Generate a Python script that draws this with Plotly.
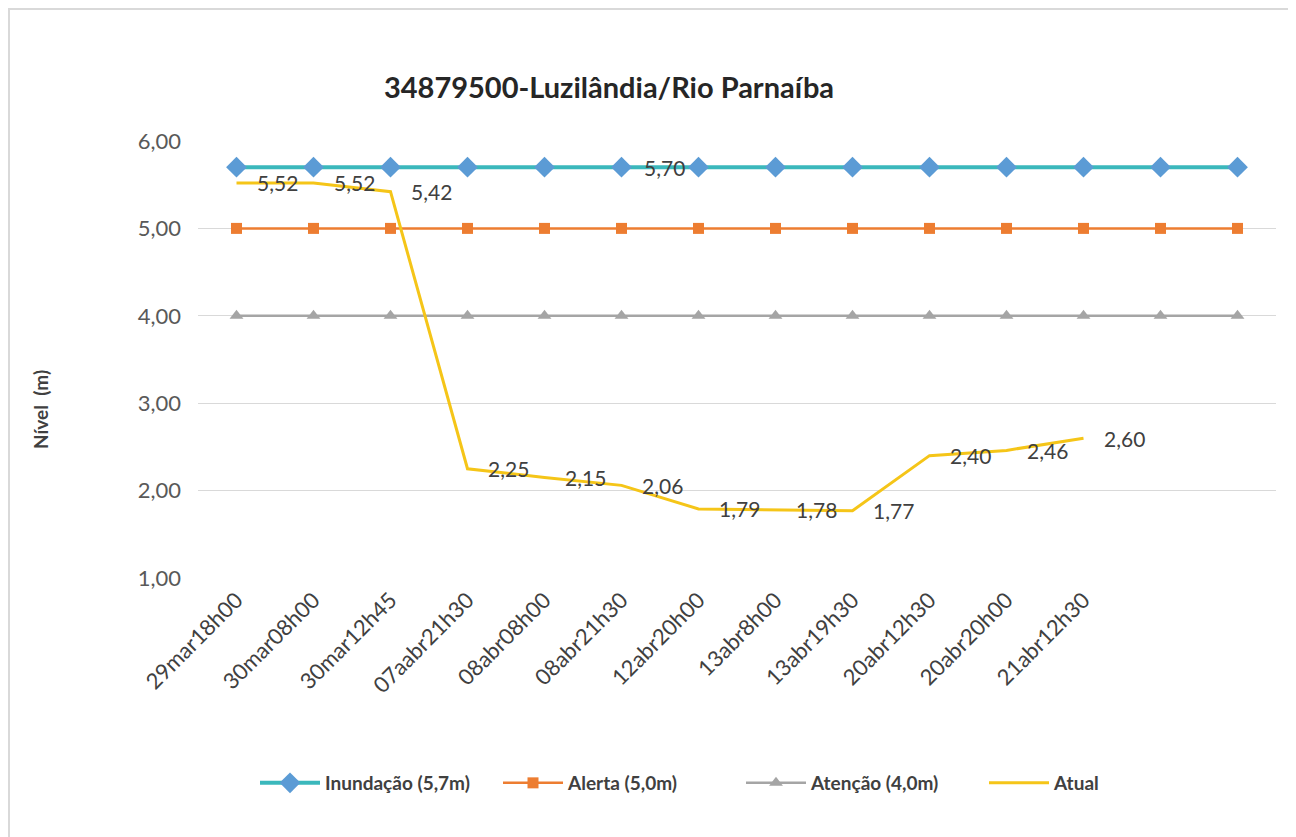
import plotly.graph_objects as go

# ---------------- data ----------------
categories = ["29mar18h00", "30mar08h00", "30mar12h45", "07aabr21h30", "08abr08h00",
              "08abr21h30", "12abr20h00", "13abr8h00", "13abr19h30", "20abr12h30",
              "20abr20h00", "21abr12h30"]
n_slots = 14  # threshold series extend over 14 category slots (last two unlabeled)

inundacao = [5.70, 5.70, 5.70, 5.70, 5.70, 5.70, 5.70, 5.70, 5.70, 5.70, 5.70, 5.70, 5.70, 5.70]
alerta    = [5.00, 5.00, 5.00, 5.00, 5.00, 5.00, 5.00, 5.00, 5.00, 5.00, 5.00, 5.00, 5.00, 5.00]
atencao   = [4.00, 4.00, 4.00, 4.00, 4.00, 4.00, 4.00, 4.00, 4.00, 4.00, 4.00, 4.00, 4.00, 4.00]
atual     = [5.52, 5.52, 5.42, 2.25, 2.15, 2.06, 1.79, 1.78, 1.77, 2.40, 2.46, 2.60]
inundacao_label_index = 5

y_ticks = [1, 2, 3, 4, 5, 6]

title_text = "34879500-Luzilândia/Rio Parnaíba"
y_title = "Nível  (m)"

# ---------------- figure ----------------
def fmt(v):
    return f"{v:.2f}".replace(".", ",")

x_thr = list(range(n_slots))
x_atual = list(range(len(atual)))

FONT = "Lato"
OFF = 8  # page body margin
W, H = 1288, 829
L, T = 190, 133
pw, ph = 1078, 437
R = W - L - pw
B = H - T - ph


def px_x(px):
    return (px - OFF - L) / pw


def px_y(py):
    return (H - B - (py - OFF)) / ph


fig = go.Figure()

fig.add_trace(go.Scatter(
    x=x_thr, y=inundacao, name="Inundação (5,7m)", mode="lines+markers",
    line=dict(color="#3BB8BC", width=4),
    marker=dict(symbol="diamond", size=16, color="#5B9BD5"),
))
fig.add_trace(go.Scatter(
    x=x_thr, y=alerta, name="Alerta (5,0m)", mode="lines+markers",
    line=dict(color="#ED7D31", width=2.5),
    marker=dict(symbol="square", size=11, color="#ED7D31"),
))
fig.add_trace(go.Scatter(
    x=x_thr, y=atencao, name="Atenção (4,0m)", mode="lines+markers",
    line=dict(color="#A5A5A5", width=2.5),
    marker=dict(symbol="triangle-up", size=12, color="#A5A5A5"),
))
fig.add_trace(go.Scatter(
    x=x_atual, y=atual, name="Atual", mode="lines",
    line=dict(color="#F5C518", width=3),
))

label_font = dict(family=FONT, size=21, color="#404040")
annotations = []
for i, v in zip(x_atual, atual):
    annotations.append(dict(x=i, y=v, xref="x", yref="y", text=fmt(v),
                            xanchor="left", yanchor="middle", xshift=18,
                            showarrow=False, font=label_font))
annotations.append(dict(x=inundacao_label_index, y=inundacao[inundacao_label_index],
                        xref="x", yref="y", text=fmt(inundacao[inundacao_label_index]),
                        xanchor="left", yanchor="middle", xshift=20,
                        showarrow=False, font=label_font))
annotations.append(dict(text="<b>" + y_title + "</b>", textangle=-90,
                        xref="paper", yref="paper", x=px_x(40), y=px_y(410),
                        xanchor="center", yanchor="middle",
                        showarrow=False, font=dict(family=FONT, size=19, color="#404040")))

fig.update_layout(
    width=W, height=H,
    margin=dict(l=L, r=R, t=T, b=B),
    paper_bgcolor="white", plot_bgcolor="white",
    separators=",.",
    font=dict(family=FONT, color="#595959"),
    title=dict(text="<b>" + title_text + "</b>", x=(609 - OFF) / W, xanchor="center",
               y=1 - (88 - OFF) / H, yanchor="middle", yref="container", xref="container",
               font=dict(family=FONT, size=29, color="#262626")),
    xaxis=dict(range=[-0.5, n_slots - 0.5], tickmode="array",
               tickvals=x_atual, ticktext=categories, tickangle=-45,
               showgrid=False, zeroline=False, showline=False, ticks="",
               ticklabelstandoff=4,
               tickfont=dict(family=FONT, size=22, color="#404040")),
    yaxis=dict(range=[1, 6], tickvals=y_ticks, tickformat=".2f",
               showgrid=True, gridcolor="#D9D9D9", gridwidth=1.2,
               zeroline=False, showline=False, ticks="", ticklen=0,
               ticklabelstandoff=16,
               tickfont=dict(family=FONT, size=22, color="#595959")),
    showlegend=True,
    legend=dict(orientation="h", x=px_x(255), xanchor="left",
                y=px_y(783), yanchor="middle",
                font=dict(family=FONT, size=19, color="#404040"),
                itemwidth=60, tracegroupgap=0,
                entrywidth=168, entrywidthmode="pixels"),
    annotations=annotations,
    shapes=[dict(type="rect", xref="paper", yref="paper",
                 x0=px_x(9), x1=px_x(1290), y0=px_y(860), y1=px_y(9),
                 line=dict(color="#D9D9D9", width=2), layer="below")],
)

for tr in fig.data:
    tr.name = "<b>" + tr.name + "</b>"

fig.write_html("out.html")
